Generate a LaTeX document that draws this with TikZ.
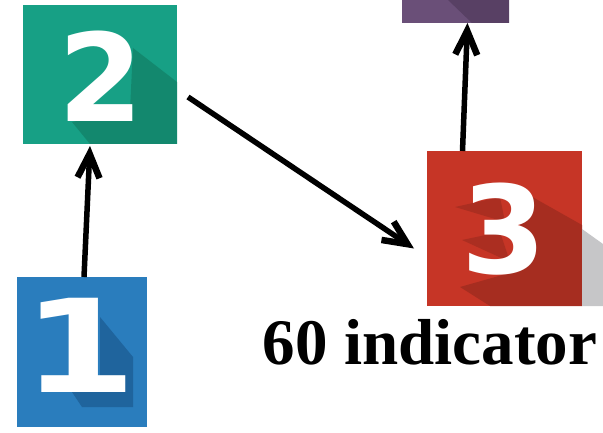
\documentclass[tikz,border=0pt]{standalone}
\usepackage{fontspec}
\setmainfont{Liberation Serif}
\newfontfamily\digitfont{DejaVu Sans}
\usetikzlibrary{arrows.meta}
\definecolor{greenA}{HTML}{17A085}
\definecolor{greenB}{HTML}{13886E}
\definecolor{blueA}{HTML}{2A7DBD}
\definecolor{blueB}{HTML}{1F649D}
\definecolor{redA}{HTML}{C63526}
\definecolor{redB}{HTML}{A62D20}
\definecolor{purpleA}{HTML}{6A4F78}
\definecolor{purpleB}{HTML}{584064}
\definecolor{shadowgrey}{HTML}{C6C6C8}
\tikzset{
  square/.style={inner sep=0pt,outer sep=0pt,minimum width=#1},
  digit/.style={text=white,inner sep=0pt,font=\digitfont\bfseries\fontsize{122}{122}\selectfont},
  link/.style={line width=5.5pt,black,-{Straight Barb[length=24pt,width=22pt,line width=6.5pt]}},
  caption/.style={inner sep=0pt,font=\bfseries\fontsize{65}{65}\selectfont}
}
\begin{document}
\begin{tikzpicture}[x=1pt,y=-1pt]
\useasboundingbox (0,0) rectangle (603,433);
% squares
\node[square=154pt,minimum height=139pt,fill=greenA] (n2) at (100,74.5) {};
\node[square=130pt,minimum height=150pt,fill=blueA] (n1) at (82,352) {};
\node[square=155pt,minimum height=155pt,fill=redA] (n3) at (504.5,228.5) {};
\node[square=107pt,minimum height=23pt,fill=purpleA] (n4) at (455.5,11.5) {};
% long shadows
\fill[greenB] (133,48) -- (177,82) -- (177,144) -- (90,144) -- (72,122) -- (130,110) -- cycle;
\fill[blueB] (100,317) -- (133,357) -- (133,407) -- (82,407) -- (72,392) -- (100,380) -- cycle;
\fill[redB] (520,190) -- (582,225) -- (582,306) -- (490,306) -- (460,287) -- (520,270) -- cycle;
\fill[redB!85!redA] (455,207) -- (500,197) -- (505,222) -- cycle;
\fill[redB!85!redA] (462,240) -- (500,232) -- (510,262) -- cycle;
\fill[shadowgrey] (582,229) -- (603,244) -- (603,306) -- (582,306) -- cycle;
\fill[purpleB] (448,0) -- (509,0) -- (509,23) -- (472,23) -- cycle;
% numerals
\node[digit] (d2) at (101,76) {2};
\node[digit,xscale=1.35,yscale=1.06] (d1) at (80,345) {1};
\node[digit] (d3) at (504,229) {3};
% connectors
\draw[link] ([xshift=2pt]n1.north) -- ([xshift=-10pt,yshift=-2pt]n2.south);
\draw[link] ([xshift=11pt,yshift=-22.5pt]n2.east) -- ([xshift=-13pt,yshift=-20pt]n3.west);
\draw[link] ([xshift=-42pt]n3.north) -- ([xshift=12pt]n4.south);
% caption
\node[caption,anchor=base] (cap) at (430,364) {60 indicator};
\end{tikzpicture}
\end{document}
